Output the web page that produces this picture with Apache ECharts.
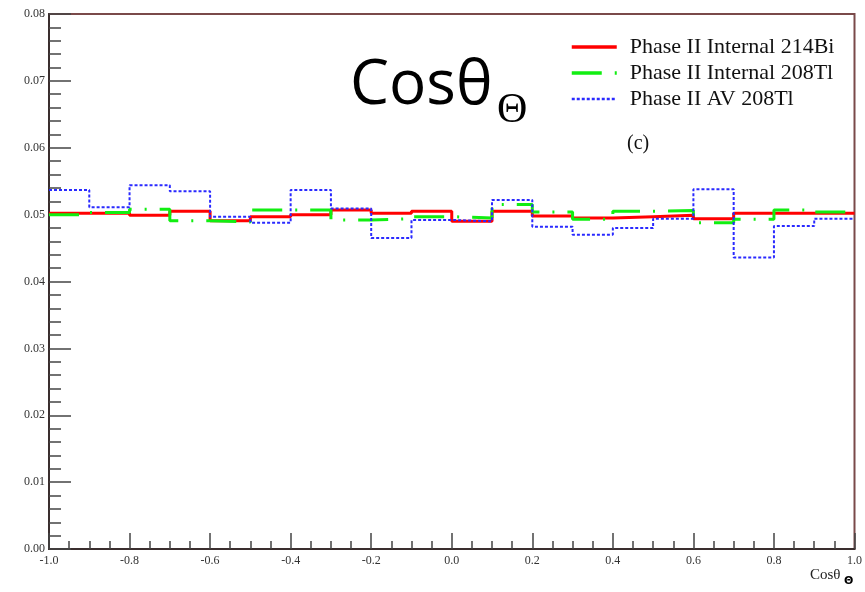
<!DOCTYPE html>
<html>
<head>
<meta charset="utf-8">
<script src="https://cdn.jsdelivr.net/npm/echarts@6/dist/echarts.min.js"></script>
<style>html,body{margin:0;padding:0;background:#fff}#c{width:865px;height:592px}</style>
</head>
<body>
<div id="c"></div>
<script>
// Bin lower edges (20 bins from -1 to 1) and upper edge of last bin
var binLow = [-1.0, -0.9, -0.8, -0.7, -0.6, -0.5, -0.4, -0.3, -0.2, -0.1, 0.0, 0.1, 0.2, 0.3, 0.4, 0.5, 0.6, 0.7, 0.8, 0.9];
var lastEdge = 1.0;
var seriesNames = ['Phase II Internal 214Bi', 'Phase II Internal 208Tl', 'Phase II AV 208Tl'];
var bi214Internal = [0.0502, 0.0502, 0.0499, 0.0505, 0.0491, 0.0497, 0.0500, 0.0507, 0.0502, 0.0505, 0.0490, 0.0505, 0.0498, 0.0495, 0.0497, 0.0499, 0.0494, 0.0502, 0.0502, 0.0502];
var tl208Internal = [0.0500, 0.0503, 0.0508, 0.0491, 0.0489, 0.0507, 0.0507, 0.0492, 0.0494, 0.0497, 0.0495, 0.0515, 0.0504, 0.0493, 0.0505, 0.0506, 0.0488, 0.0493, 0.0507, 0.0504];
var tl208AV = [0.0537, 0.0511, 0.0544, 0.0535, 0.0497, 0.0488, 0.0537, 0.0509, 0.0465, 0.0492, 0.0490, 0.0522, 0.0482, 0.0470, 0.0480, 0.0494, 0.0538, 0.0436, 0.0483, 0.0494];
var xTicks = [-1.0, -0.8, -0.6, -0.4, -0.2, 0.0, 0.2, 0.4, 0.6, 0.8, 1.0];
var yTicks = [0.00, 0.01, 0.02, 0.03, 0.04, 0.05, 0.06, 0.07, 0.08];

function histData(vals) {
  var d = binLow.map(function (x, i) { return [x, vals[i]]; });
  d.push([lastEdge, vals[vals.length - 1]]);
  return d;
}

var chart = echarts.init(document.getElementById('c'), null, {renderer: 'canvas'});
var serif = '"Liberation Serif", "DejaVu Serif", serif';
var option = {
  animation: false,
  backgroundColor: '#fff',
  grid: {left: 49, right: 7, top: 14, bottom: 43, show: true, borderColor: '#7a4a4a', borderWidth: 2, backgroundColor: 'transparent'},
  legend: {
    orient: 'vertical', left: 565, top: 31, itemWidth: 45, itemHeight: 14, itemGap: 4,
    itemStyle: {opacity: 0},
    textStyle: {fontFamily: serif, fontSize: 22, lineHeight: 22, color: '#111', padding: [0, 0, 0, 8]},
    data: [
      {name: seriesNames[0], lineStyle: {width: 3.5}},
      {name: seriesNames[1], lineStyle: {width: 3.5}},
      {name: seriesNames[2], lineStyle: {width: 2.5}}
    ]
  },
  xAxis: {
    type: 'value', min: xTicks[0], max: xTicks[xTicks.length - 1], interval: 0.2,
    axisLine: {show: true, onZero: false, lineStyle: {color: '#3a2e2e', width: 2}},
    axisTick: {show: true, inside: true, length: 16, lineStyle: {color: '#444', width: 1.5}},
    minorTick: {show: true, splitNumber: 4, length: 8, lineStyle: {color: '#444', width: 1.5}},
    splitLine: {show: false},
    axisLabel: {fontFamily: serif, fontSize: 12, color: '#333', margin: 6, formatter: function (v) { return v.toFixed(1); }}
  },
  yAxis: {
    type: 'value', min: yTicks[0], max: yTicks[yTicks.length - 1], interval: 0.01,
    axisLine: {show: true, onZero: false, lineStyle: {color: '#3a2e2e', width: 2}},
    axisTick: {show: true, inside: true, length: 22, lineStyle: {color: '#444', width: 1.5}},
    minorTick: {show: true, splitNumber: 5, length: 12, lineStyle: {color: '#444', width: 1.5}},
    splitLine: {show: false},
    axisLabel: {fontFamily: serif, fontSize: 12, color: '#333', margin: 4, formatter: function (v) { return v.toFixed(2); }}
  },
  series: [
    {name: seriesNames[0], type: 'line', step: 'end', symbol: 'none', data: histData(bi214Internal),
     lineStyle: {color: '#ff0000', width: 3}, itemStyle: {color: '#ff0000'}, z: 2},
    {name: seriesNames[1], type: 'line', step: 'end', symbol: 'none', data: histData(tl208Internal),
     lineStyle: {color: '#11ee11', width: 3, type: [30, 13, 2, 13]}, itemStyle: {color: '#11ee11'}, z: 3},
    {name: seriesNames[2], type: 'line', step: 'end', symbol: 'none', data: histData(tl208AV),
     lineStyle: {color: '#2a2aff', width: 2, type: [3, 2]}, itemStyle: {color: '#2a2aff'}, z: 4}
  ],
  graphic: [
    {type: 'text', left: 350, top: 55, style: {text: 'Cosθ', font: '62px "Open Sans"', fill: '#000'}},
    {type: 'text', left: 497, top: 90, style: {text: 'Θ', font: '42px "Liberation Serif"', fill: '#000'}},
    {type: 'text', left: 627, top: 134, style: {text: '(c)', font: '20px "Liberation Serif"', fill: '#111'}},
    {type: 'text', left: 810, top: 568, style: {text: 'Cosθ', font: '15px "Liberation Serif"', fill: '#222'}},
    {type: 'text', left: 844, top: 576, style: {text: 'Θ', font: 'bold 11px "DejaVu Sans"', fill: '#000'}}
  ]
};
chart.setOption(option);
</script>
</body>
</html>
